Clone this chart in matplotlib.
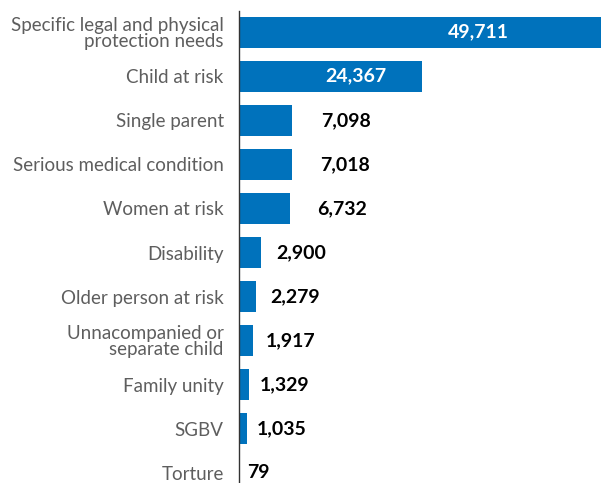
import matplotlib.pyplot as plt

# categories and counts, top to bottom
categories = ["Specific legal and physical\nprotection needs", "Child at risk", "Single parent",
              "Serious medical condition", "Women at risk", "Disability", "Older person at risk",
              "Unnacompanied or\nseparate child", "Family unity", "SGBV", "Torture"]
values = [49711, 24367, 7098, 7018, 6732, 2900, 2279, 1917, 1329, 1035, 79]
inside = [True, True, False, False, False, False, False, False, False, False, False]

plt.rcParams['font.family'] = ['Lato', 'DejaVu Sans']

fig = plt.figure(figsize=(6.01, 4.83), dpi=100)
ax = fig.add_axes([239 / 601, 0, 362 / 601, 472 / 483])

ypos = list(range(len(values)))
ax.barh(ypos, values, height=0.7, color='#0072BC')

ax.set_xlim(0, 48200)
ax.set_ylim(10.23, -0.48)

# value labels: white inside the long bars, black after the short ones
for y, v, ins in zip(ypos, values, inside):
    txt = "{:,}".format(v)
    if ins:
        ax.text(v * 0.64, y, txt, ha='center', va='center', color='white',
                fontsize=14, fontweight='bold')
    else:
        ax.annotate(txt, (v, y), xytext=(5 + v * 0.0022, 0), textcoords='offset points',
                    ha='left', va='center', color='black', fontsize=14, fontweight='bold')

ax.set_yticks(ypos)
ax.set_yticklabels(categories, fontsize=13.5, color='#5e5e5e', linespacing=0.95)
ax.tick_params(axis='y', length=0, pad=11)
ax.set_xticks([])
for s in ['top', 'right', 'bottom']:
    ax.spines[s].set_visible(False)
ax.spines['left'].set_color('#333333')
ax.spines['left'].set_linewidth(1)

fig.savefig('out.png', dpi=100)
